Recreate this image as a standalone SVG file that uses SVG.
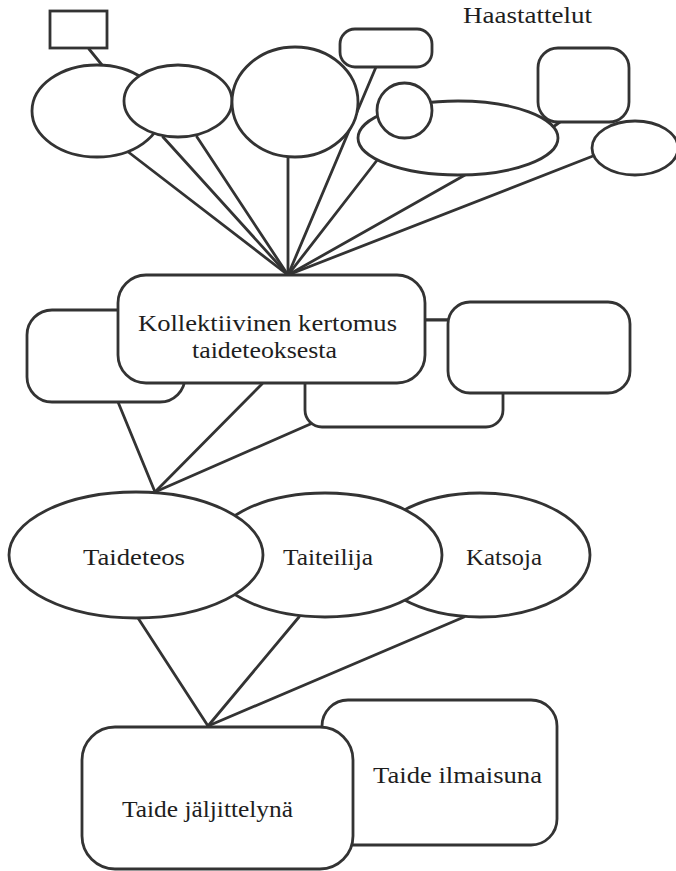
<svg xmlns="http://www.w3.org/2000/svg" width="676" height="871" viewBox="0 0 676 871">
<style>
.s{fill:#fff;stroke:#333;stroke-width:2.8}
.c line{stroke:#333;stroke-width:2.8;stroke-linecap:round}
text{font-family:"Liberation Serif","DejaVu Serif",serif;font-size:24px;fill:#1e1e1e}
</style>
<rect x="0" y="0" width="676" height="871" fill="#fff"/>
<g id="connectors" class="c">
<line x1="89" y1="49" x2="102" y2="65"/>
<line x1="127" y1="151" x2="288" y2="275"/>
<line x1="163" y1="137" x2="288" y2="275"/>
<line x1="197" y1="137" x2="288" y2="275"/>
<line x1="288" y1="157" x2="288" y2="275"/>
<line x1="376" y1="67" x2="288" y2="275"/>
<line x1="378" y1="159" x2="288" y2="275"/>
<line x1="465" y1="175" x2="288" y2="275"/>
<line x1="593" y1="156" x2="288" y2="275"/>
<line x1="560" y1="122" x2="553" y2="127"/>
<line x1="425" y1="320" x2="448" y2="320"/>
<line x1="118" y1="402" x2="155" y2="492"/>
<line x1="262" y1="384" x2="155" y2="492"/>
<line x1="315" y1="422" x2="155" y2="492"/>
<line x1="138" y1="618" x2="208" y2="726"/>
<line x1="299" y1="617" x2="208" y2="726"/>
<line x1="464" y1="617" x2="208" y2="726"/>
</g>
<g id="n-smallrect"><rect class="s" x="50" y="11" width="57" height="37"/></g>
<g id="n-ell1"><ellipse class="s" cx="97" cy="111" rx="65" ry="46"/></g>
<g id="n-ell2"><ellipse class="s" cx="178" cy="101" rx="54" ry="36"/></g>
<g id="n-ell3"><ellipse class="s" cx="295" cy="102" rx="63" ry="55"/></g>
<g id="n-toprect"><rect class="s" x="340" y="29" width="92" height="38" rx="15"/></g>
<g id="n-ell4"><ellipse class="s" cx="458" cy="138" rx="100" ry="37"/></g>
<g id="n-circle"><ellipse class="s" cx="404.5" cy="110.5" rx="27.5" ry="27.5"/></g>
<g id="n-rightrect"><rect class="s" x="538" y="48" width="91" height="74" rx="20"/></g>
<g id="n-ell5"><ellipse class="s" cx="635" cy="148" rx="43" ry="27"/></g>
<g id="n-haastattelut"><text x="463" y="23" textLength="129" lengthAdjust="spacingAndGlyphs">Haastattelut</text></g>
<g id="n-leftbox"><rect class="s" x="27" y="310" width="158" height="92" rx="25"/></g>
<g id="n-bottombox"><rect class="s" x="305" y="320" width="198" height="107" rx="17"/></g>
<g id="n-kollektiivinen"><rect class="s" x="118" y="275" width="307" height="108" rx="28"/>
<text x="138" y="331" textLength="259" lengthAdjust="spacingAndGlyphs">Kollektiivinen kertomus</text>
<text x="192" y="358" textLength="145" lengthAdjust="spacingAndGlyphs">taideteoksesta</text></g>
<g id="n-rightbox"><rect class="s" x="448" y="302" width="182" height="91" rx="22"/></g>
<g id="n-katsoja"><ellipse class="s" cx="480" cy="555" rx="110" ry="62"/>
<text x="466" y="565" textLength="76" lengthAdjust="spacingAndGlyphs">Katsoja</text></g>
<g id="n-taiteilija"><ellipse class="s" cx="325" cy="555" rx="117" ry="62"/>
<text x="283" y="565" textLength="90" lengthAdjust="spacingAndGlyphs">Taiteilija</text></g>
<g id="n-taideteos"><ellipse class="s" cx="136" cy="555" rx="127" ry="63"/>
<text x="83" y="565" textLength="102" lengthAdjust="spacingAndGlyphs">Taideteos</text></g>
<g id="n-ilmaisuna"><rect class="s" x="322" y="700" width="235" height="145" rx="26"/>
<text x="373" y="783" textLength="169" lengthAdjust="spacingAndGlyphs">Taide ilmaisuna</text></g>
<g id="n-jaljittelyna"><rect class="s" x="82" y="727" width="271" height="142" rx="33"/>
<text x="122" y="817" textLength="171" lengthAdjust="spacingAndGlyphs">Taide jäljittelynä</text></g>
</svg>
